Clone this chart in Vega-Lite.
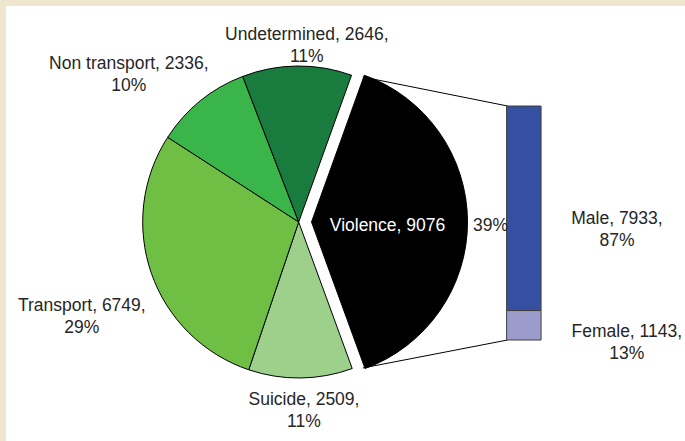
{
  "$schema": "https://vega.github.io/schema/vega-lite/v6.json",
  "width": 679,
  "height": 435,
  "autosize": "none",
  "padding": {"left": 6, "top": 6, "right": 0, "bottom": 0},
  "background": "#efe6cf",
  "config": {
    "view": {"stroke": null, "fill": "#ffffff"},
    "text": {"font": "Liberation Sans", "fontSize": 17.5, "fill": "#262626", "lineHeight": 22, "lineBreak": "\n", "align": "center", "baseline": "middle"}
  },
  "datasets": {
    "pie": [
      {"cat": "Violence", "count": 9076, "ord": 1, "label": "Violence, 9076", "pct": "39%"},
      {"cat": "Suicide", "count": 2509, "ord": 2, "label": "Suicide, 2509,\n11%", "pct": "11%"},
      {"cat": "Transport", "count": 6749, "ord": 3, "label": "Transport, 6749,\n29%", "pct": "29%"},
      {"cat": "Non transport", "count": 2336, "ord": 4, "label": "Non transport, 2336,\n10%", "pct": "10%"},
      {"cat": "Undetermined", "count": 2646, "ord": 5, "label": "Undetermined, 2646,\n11%", "pct": "11%"}
    ],
    "bar": [
      {"cat": "Female", "count": 1143, "ord": 1, "label": "Female, 1143,\n13%"},
      {"cat": "Male", "count": 7933, "ord": 2, "label": "Male, 7933,\n87%"}
    ],
    "link": [{"k": 1}]
  },
  "resolve": {"scale": {"y": "independent"}},
  "layer": [
    {
      "data": {"name": "pie"},
      "mark": {"type": "arc", "radius": 156, "stroke": "#000000", "strokeWidth": 1},
      "encoding": {
        "x": {"datum": 292, "type": "quantitative", "scale": {"domain": [0, 679], "nice": false, "zero": false}, "axis": null},
        "y": {"datum": 216, "type": "quantitative", "scale": {"domain": [0, 435], "nice": false, "zero": false, "reverse": true}, "axis": null},
        "theta": {"field": "count", "type": "quantitative", "stack": true, "scale": {"range": [0.3456, 6.6288]}},
        "order": {"field": "ord", "type": "quantitative"},
        "color": {"field": "cat", "type": "nominal", "legend": null, "scale": {"domain": ["Violence", "Suicide", "Transport", "Non transport", "Undetermined", "Male", "Female"], "range": ["#000000", "#9dd08a", "#70bf45", "#3ab54a", "#1a7b3f", "#3550a1", "#9b9bcc"]}},
        "opacity": {"condition": {"test": "datum.cat === 'Violence'", "value": 0}, "value": 1}
      }
    },
    {
      "data": {"name": "pie"},
      "mark": {"type": "arc", "radius": 156, "stroke": "#000000", "strokeWidth": 1},
      "encoding": {
        "x": {"datum": 305, "type": "quantitative", "scale": {"domain": [0, 679], "nice": false, "zero": false}, "axis": null},
        "y": {"datum": 216, "type": "quantitative", "scale": {"domain": [0, 435], "nice": false, "zero": false, "reverse": true}, "axis": null},
        "theta": {"field": "count", "type": "quantitative", "stack": true, "scale": {"range": [0.3456, 6.6288]}},
        "order": {"field": "ord", "type": "quantitative"},
        "color": {"field": "cat", "type": "nominal", "legend": null},
        "opacity": {"condition": {"test": "datum.cat === 'Violence'", "value": 1}, "value": 0}
      }
    },
    {
      "data": {"name": "link"},
      "mark": {"type": "rule", "stroke": "#000000", "strokeWidth": 1},
      "encoding": {
        "x": {"datum": 357, "type": "quantitative", "scale": {"domain": [0, 679], "nice": false, "zero": false}, "axis": null},
        "y": {"datum": 71, "type": "quantitative", "scale": {"domain": [0, 435], "nice": false, "zero": false, "reverse": true}, "axis": null},
        "x2": {"datum": 504},
        "y2": {"datum": 100}
      }
    },
    {
      "data": {"name": "link"},
      "mark": {"type": "rule", "stroke": "#000000", "strokeWidth": 1},
      "encoding": {
        "x": {"datum": 357, "type": "quantitative", "scale": {"domain": [0, 679], "nice": false, "zero": false}, "axis": null},
        "y": {"datum": 362, "type": "quantitative", "scale": {"domain": [0, 435], "nice": false, "zero": false, "reverse": true}, "axis": null},
        "x2": {"datum": 504},
        "y2": {"datum": 334}
      }
    },
    {
      "data": {"name": "bar"},
      "mark": {"type": "bar", "orient": "vertical", "stroke": "#404040", "strokeWidth": 1},
      "encoding": {
        "x": {"datum": 503, "type": "quantitative", "scale": {"domain": [0, 679], "nice": false, "zero": false}, "axis": null},
        "x2": {"datum": 538},
        "y": {"field": "count", "type": "quantitative", "stack": true, "scale": {"domain": [-3917.4, 12954.7], "nice": false, "zero": false}, "axis": null},
        "order": {"field": "ord", "type": "quantitative"},
        "color": {"field": "cat", "type": "nominal", "legend": null}
      }
    },
    {
      "data": {"name": "bar"},
      "mark": {"type": "text", "dy": 11},
      "encoding": {
        "x": {"datum": 615, "type": "quantitative", "scale": {"domain": [0, 679], "nice": false, "zero": false}, "axis": null},
        "y": {"field": "count", "type": "quantitative", "stack": true, "bandPosition": 0.5, "scale": {"domain": [-3917.4, 12954.7], "nice": false, "zero": false}, "axis": null},
        "order": {"field": "ord", "type": "quantitative"},
        "text": {"condition": {"test": "datum.cat === 'Male'", "field": "label", "type": "nominal"}, "value": ""}
      }
    },
    {
      "data": {"name": "bar"},
      "mark": {"type": "text", "dy": 7},
      "encoding": {
        "x": {"datum": 625, "type": "quantitative", "scale": {"domain": [0, 679], "nice": false, "zero": false}, "axis": null},
        "y": {"field": "count", "type": "quantitative", "stack": true, "bandPosition": 0.5, "scale": {"domain": [-3917.4, 12954.7], "nice": false, "zero": false}, "axis": null},
        "order": {"field": "ord", "type": "quantitative"},
        "text": {"condition": {"test": "datum.cat === 'Female'", "field": "label", "type": "nominal"}, "value": ""}
      }
    },
    {
      "data": {"name": "pie"},
      "mark": {"type": "text", "radius": 76, "dy": 4, "fill": "#ffffff"},
      "encoding": {
        "x": {"datum": 305, "type": "quantitative", "scale": {"domain": [0, 679], "nice": false, "zero": false}, "axis": null},
        "y": {"datum": 216, "type": "quantitative", "scale": {"domain": [0, 435], "nice": false, "zero": false, "reverse": true}, "axis": null},
        "theta": {"field": "count", "type": "quantitative", "stack": true, "scale": {"range": [0.3456, 6.6288]}},
        "order": {"field": "ord", "type": "quantitative"},
        "text": {"condition": {"test": "datum.cat === 'Violence'", "field": "label", "type": "nominal"}, "value": ""}
      }
    },
    {
      "data": {"name": "pie"},
      "mark": {"type": "text", "radius": 179, "dy": 4},
      "encoding": {
        "x": {"datum": 305, "type": "quantitative", "scale": {"domain": [0, 679], "nice": false, "zero": false}, "axis": null},
        "y": {"datum": 216, "type": "quantitative", "scale": {"domain": [0, 435], "nice": false, "zero": false, "reverse": true}, "axis": null},
        "theta": {"field": "count", "type": "quantitative", "stack": true, "scale": {"range": [0.3456, 6.6288]}},
        "order": {"field": "ord", "type": "quantitative"},
        "text": {"condition": {"test": "datum.cat === 'Violence'", "field": "pct", "type": "nominal"}, "value": ""}
      }
    },
    {
      "data": {"name": "pie"},
      "mark": {"type": "text", "radius": 177, "dx": 10, "dy": -10},
      "encoding": {
        "x": {"datum": 292, "type": "quantitative", "scale": {"domain": [0, 679], "nice": false, "zero": false}, "axis": null},
        "y": {"datum": 216, "type": "quantitative", "scale": {"domain": [0, 435], "nice": false, "zero": false, "reverse": true}, "axis": null},
        "theta": {"field": "count", "type": "quantitative", "stack": true, "scale": {"range": [0.3456, 6.6288]}},
        "order": {"field": "ord", "type": "quantitative"},
        "text": {"condition": {"test": "datum.cat === 'Undetermined'", "field": "label", "type": "nominal"}, "value": ""}
      }
    },
    {
      "data": {"name": "pie"},
      "mark": {"type": "text", "radius": 225, "dx": -28, "dy": 17},
      "encoding": {
        "x": {"datum": 292, "type": "quantitative", "scale": {"domain": [0, 679], "nice": false, "zero": false}, "axis": null},
        "y": {"datum": 216, "type": "quantitative", "scale": {"domain": [0, 435], "nice": false, "zero": false, "reverse": true}, "axis": null},
        "theta": {"field": "count", "type": "quantitative", "stack": true, "scale": {"range": [0.3456, 6.6288]}},
        "order": {"field": "ord", "type": "quantitative"},
        "text": {"condition": {"test": "datum.cat === 'Non transport'", "field": "label", "type": "nominal"}, "value": ""}
      }
    },
    {
      "data": {"name": "pie"},
      "mark": {"type": "text", "radius": 235, "dx": 5, "dy": 7},
      "encoding": {
        "x": {"datum": 292, "type": "quantitative", "scale": {"domain": [0, 679], "nice": false, "zero": false}, "axis": null},
        "y": {"datum": 216, "type": "quantitative", "scale": {"domain": [0, 435], "nice": false, "zero": false, "reverse": true}, "axis": null},
        "theta": {"field": "count", "type": "quantitative", "stack": true, "scale": {"range": [0.3456, 6.6288]}},
        "order": {"field": "ord", "type": "quantitative"},
        "text": {"condition": {"test": "datum.cat === 'Transport'", "field": "label", "type": "nominal"}, "value": ""}
      }
    },
    {
      "data": {"name": "pie"},
      "mark": {"type": "text", "radius": 188, "dx": 3, "dy": -10},
      "encoding": {
        "x": {"datum": 292, "type": "quantitative", "scale": {"domain": [0, 679], "nice": false, "zero": false}, "axis": null},
        "y": {"datum": 216, "type": "quantitative", "scale": {"domain": [0, 435], "nice": false, "zero": false, "reverse": true}, "axis": null},
        "theta": {"field": "count", "type": "quantitative", "stack": true, "scale": {"range": [0.3456, 6.6288]}},
        "order": {"field": "ord", "type": "quantitative"},
        "text": {"condition": {"test": "datum.cat === 'Suicide'", "field": "label", "type": "nominal"}, "value": ""}
      }
    }
  ]
}
